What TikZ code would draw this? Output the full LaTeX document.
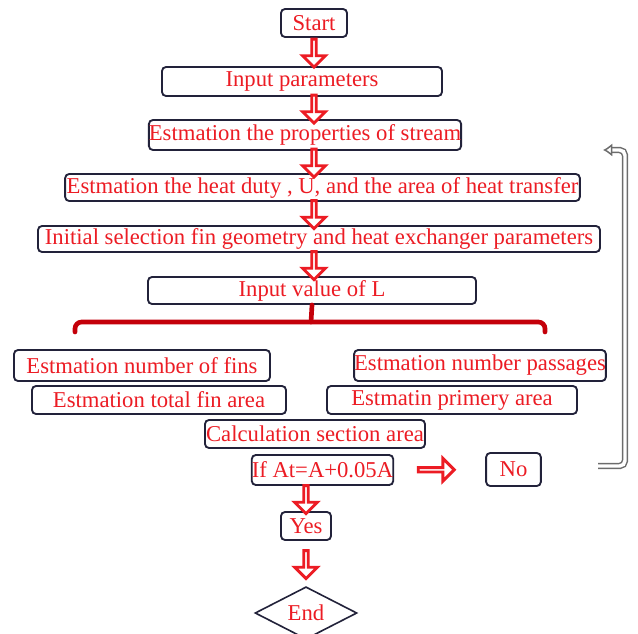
\documentclass[tikz,border=0pt]{standalone}
\usepackage{fontspec}
\setmainfont{Liberation Serif}
\usepackage{xcolor}
\usetikzlibrary{arrows.meta,shapes,positioning,calc}

\definecolor{boxline}{RGB}{34,34,58}
\definecolor{txtred}{RGB}{236,28,36}
\definecolor{bardark}{RGB}{196,0,10}

\begin{document}
\begin{tikzpicture}[x=0.75pt,y=-0.75pt,
  stepbox/.style={draw=boxline, line width=1.4pt, rounded corners=3pt, fill=white, text=txtred, inner sep=0pt, font=\fontsize{17}{19}\selectfont},
  downarrow/.style={single arrow, draw=txtred, fill=white, line width=2.2pt, minimum height=21pt, minimum width=17pt, single arrow head extend=4.5pt, single arrow head indent=0pt, inner sep=0pt, rotate=-90},
  rightarrow/.style={single arrow, draw=txtred, fill=white, line width=2.2pt, minimum height=27pt, minimum width=17pt, single arrow head extend=4.5pt, inner sep=0pt},
  redbar/.style={draw=bardark, line width=3.5pt, line cap=round, rounded corners=5pt},
  loopback/.style={draw=gray!85!black, double=white, double distance=2.6pt, line width=1.1pt, rounded corners=4pt}]
\useasboundingbox (0,0) rectangle (638,634);

% Main steps
\node[stepbox, minimum width=49.5pt, minimum height=21pt] (start) at (314,23) {Start};
\node[stepbox, minimum width=210pt, minimum height=21.75pt] (inparam) at (302,81.5) {Input parameters};
\node[stepbox, minimum width=226.5pt, minimum height=22.5pt] (props) at (305,135) {Estmation the properties of stream};
\node[stepbox, minimum width=386pt, minimum height=20.25pt] (duty) at (322.5,187.5) {Estmation the heat duty , U, and the area of heat transfer};
\node[stepbox, minimum width=421.5pt, minimum height=19.5pt] (initsel) at (319,239) {Initial selection fin geometry and heat exchanger parameters};
\node[stepbox, minimum width=246pt, minimum height=20.25pt] (lvalue) at (312,290.5) {Input value of L};

% Estimation steps
\node[stepbox, minimum width=192pt, minimum height=23.25pt] (nfins) at (142,365.5) {Estmation number of fins};
\node[stepbox, minimum width=187.5pt, minimum height=23.25pt] (npass) at (480,365.5) {Estmation number passages};
\node[stepbox, minimum width=190.5pt, minimum height=21pt] (finarea) at (159,400) {Estmation total fin area};
\node[stepbox, minimum width=187.5pt, minimum height=21pt] (primarea) at (452,400) {Estmatin primery area};
\node[stepbox, minimum width=165pt, minimum height=21pt] (section) at (315,434) {Calculation section area};

% Check
\node[stepbox, minimum width=104pt, minimum height=22.5pt] (check) at (322.5,470) {If At=A+0.05A};
\node[stepbox, minimum width=41pt, minimum height=24.75pt] (no) at (513.5,469.5) {No};
\node[stepbox, minimum width=37.5pt, minimum height=21pt] (yes) at (306,526) {Yes};
\node[diamond, draw=boxline, line width=1.2pt, fill=white, text=txtred, minimum width=76.5pt, minimum height=31pt, inner sep=0pt, font=\fontsize{17}{19}\selectfont] (finish) at (306,613) {End};

% Connections
\node[downarrow] (a1) at ($(start.south)!0.5!(start.south |- inparam.north)$) {};
\node[downarrow] (a2) at ($(start.south |- inparam.south)!0.5!(start.south |- props.north)$) {};
\node[downarrow] (a3) at ($(start.south |- props.south)!0.5!(start.south |- duty.north)$) {};
\node[downarrow] (a4) at ($(start.south |- duty.south)!0.5!(start.south |- initsel.north)$) {};
\node[downarrow] (a5) at ($(start.south |- initsel.south)!0.5!(start.south |- lvalue.north)$) {};
\node[rightarrow] (a6) at ($(check.east)!0.45!(no.west)$) {};
\node[downarrow] (a7) at ($(yes.north |- check.south)!0.5!(yes.north)$) {};
\node[downarrow] (a8) at ($(yes.south)!0.5!(finish.north)$) {};

% Split bar
\coordinate (barmid) at (311,322);
\coordinate (barleft) at (75,332);
\coordinate (barright) at (545,332);
\draw[redbar] (lvalue.south) -- (barmid);
\draw[redbar] (barleft) |- (barmid) -| (barright);

% Loop back
\coordinate (loopstart) at (598,466);
\coordinate (loopend) at (603,150);
\draw[loopback, -{Latex[open,length=7pt,width=10pt]}] (loopstart) -- ++(27,0) |- (loopend);

\end{tikzpicture}
\end{document}
